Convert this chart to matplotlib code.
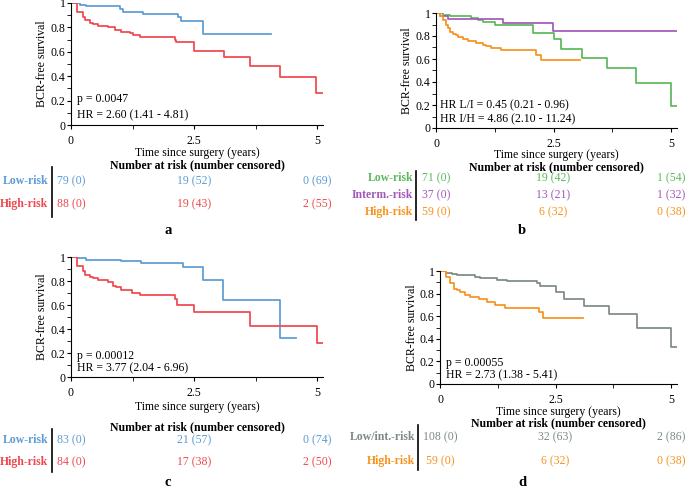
import matplotlib
matplotlib.use("Agg")
import matplotlib.pyplot as plt
from matplotlib.ticker import MultipleLocator, FormatStrFormatter
from matplotlib.transforms import blended_transform_factory

plt.rcParams["font.family"] = ["Liberation Serif", "DejaVu Serif"]
plt.rcParams["font.size"] = 8.5

# --- data --------------------------------------------------------------
# Kaplan-Meier step curves: event times, survival after each step, last follow-up
a_low_t = [0, 0.18, 0.31, 0.99, 1.06, 1.46, 2.17, 2.24, 2.68]
a_low_s = [1, 0.984, 0.973, 0.948, 0.929, 0.910, 0.883, 0.855, 0.743]
a_low_end = 4.07
a_high_t = [0, 0.13, 0.24, 0.28, 0.38, 0.45, 0.55, 0.75, 0.89, 1.02, 1.19,
            1.26, 1.40, 2.11, 2.14, 2.51, 3.10, 3.63, 4.25, 4.97]
a_high_s = [1, 0.93, 0.888, 0.86, 0.84, 0.83, 0.814, 0.80, 0.78, 0.765, 0.75,
            0.74, 0.724, 0.697, 0.678, 0.61, 0.555, 0.486, 0.39, 0.265]
a_high_end = 5.12

b_low_t = [0, 0.15, 0.3, 0.75, 0.9, 1.0, 1.25, 2.06, 2.5, 2.67, 3.1, 3.63, 4.26, 4.99]
b_low_s = [1, 0.985, 0.97, 0.955, 0.94, 0.925, 0.9, 0.825, 0.775, 0.685, 0.605,
           0.52, 0.39, 0.195]
b_low_end = 5.12
b_int_t = [0, 0.08, 0.25, 1.43, 2.49]
b_int_s = [1, 0.973, 0.946, 0.91, 0.845]
b_int_end = 5.12
b_high_t = [0, 0.08, 0.15, 0.22, 0.26, 0.29, 0.36, 0.43, 0.47, 0.57, 0.68, 0.86,
            1.0, 1.07, 1.18, 1.39, 2.13, 2.24]
b_high_s = [1, 0.97, 0.942, 0.9, 0.867, 0.838, 0.82, 0.81, 0.79, 0.77, 0.754,
            0.74, 0.725, 0.71, 0.696, 0.675, 0.638, 0.588]
b_high_end = 3.06

c_low_t = [0, 0.14, 0.31, 1.02, 1.43, 2.28, 2.68, 3.09, 4.25]
c_low_s = [1, 0.99, 0.975, 0.964, 0.947, 0.914, 0.81, 0.644, 0.325]
c_low_end = 4.58
c_high_t = [0, 0.13, 0.24, 0.28, 0.38, 0.45, 0.55, 0.75, 0.85, 0.92, 1.02, 1.23,
            1.40, 2.11, 2.16, 2.5, 3.63, 4.99]
c_high_s = [1, 0.928, 0.886, 0.853, 0.836, 0.825, 0.808, 0.789, 0.761, 0.747,
            0.725, 0.7, 0.686, 0.65, 0.603, 0.539, 0.428, 0.283]
c_high_end = 5.12

d_low_t = [0, 0.12, 0.26, 0.37, 0.76, 0.87, 1.23, 1.45, 2.1, 2.17, 2.5, 2.68,
           3.11, 3.65, 4.26, 4.99]
d_low_s = [1, 0.985, 0.97, 0.962, 0.947, 0.935, 0.92, 0.91, 0.89, 0.867, 0.81,
           0.75, 0.69, 0.617, 0.493, 0.33]
d_low_end = 5.12
d_high_t = [0, 0.12, 0.22, 0.3, 0.37, 0.44, 0.55, 0.66, 0.84, 1.02, 1.2, 1.41,
            2.14, 2.24]
d_high_s = [1, 0.95, 0.897, 0.844, 0.83, 0.814, 0.785, 0.77, 0.755, 0.726,
            0.696, 0.676, 0.64, 0.587]
d_high_end = 3.09

# number at risk (number censored) at 0, 2.5, 5 years
risk_times = [0, 2.5, 5]
a_risk = [["79 (0)", "19 (52)", "0 (69)"], ["88 (0)", "19 (43)", "2 (55)"]]
b_risk = [["71 (0)", "19 (42)", "1 (54)"], ["37 (0)", "13 (21)", "1 (32)"],
          ["59 (0)", "6 (32)", "0 (38)"]]
c_risk = [["83 (0)", "21 (57)", "0 (74)"], ["84 (0)", "17 (38)", "2 (50)"]]
d_risk = [["108 (0)", "32 (63)", "2 (86)"], ["59 (0)", "6 (32)", "0 (38)"]]

a_notes = ["p = 0.0047", "HR = 2.60 (1.41 - 4.81)"]
b_notes = ["HR L/I = 0.45 (0.21 - 0.96)", "HR I/H = 4.86 (2.10 - 11.24)"]
c_notes = ["p = 0.00012", "HR = 3.77 (2.04 - 6.96)"]
d_notes = ["p = 0.00055", "HR = 2.73 (1.38 - 5.41)"]

BLUE = "#5b9bd5"
RED = "#ef474d"
GREEN = "#5cb85c"
PURPLE = "#a358b8"
ORANGE = "#f7931e"
GRAY = "#7d8a83"

W, H = 685, 487
XMAX = 5.12


def fy(y):
    return 1 - y / H


def make_panel(fig, left, x5, top, bottom, curves, notes, note_x, note_y, rows,
               ylab_x, xlab_y, title_y, row_ys, bar, lab_right, letter):
    unit = (x5 - left) / 5
    ax = fig.add_axes([left / W, fy(bottom), XMAX * unit / W, (bottom - top) / H])
    for t, s, end, color in curves:
        ax.step(list(t) + [end], list(s) + [s[-1]], where="post",
                color=color, lw=1.25)
    ax.set_xlim(0, XMAX)
    ax.set_ylim(0, 1)
    ax.spines[["top", "right"]].set_visible(False)
    ax.xaxis.set_major_locator(MultipleLocator(2.5))
    ax.xaxis.set_minor_locator(MultipleLocator(1.25))
    ax.yaxis.set_major_locator(MultipleLocator(0.2))
    ax.yaxis.set_minor_locator(MultipleLocator(0.1))
    ax.xaxis.set_major_formatter(FormatStrFormatter("%g"))
    ax.yaxis.set_major_formatter(FormatStrFormatter("%g"))
    ax.tick_params(axis="y", which="both", length=3, pad=1)
    ax.tick_params(axis="x", which="both", length=3, pad=4)
    for i, txt in enumerate(notes):
        ax.text(note_x, note_y[i], txt, ha="left", va="center")

    ax.text((ylab_x - left) / (XMAX * unit), 0.5, "BCR-free survival",
            rotation=90, ha="center", va="center", transform=ax.transAxes)

    tr = blended_transform_factory(ax.transData, fig.transFigure)
    ax.text(XMAX / 2, fy(xlab_y), "Time since surgery (years)", ha="center",
            va="center", transform=tr)
    ax.text(XMAX / 2, fy(title_y), "Number at risk (number censored)",
            ha="center", va="center", fontweight="bold", transform=tr)
    for (label, color, vals), y in zip(rows, row_ys):
        fig.text(lab_right / W, fy(y), label, ha="right", va="center",
                 color=color, fontweight="bold")
        for t, v in zip(risk_times, vals):
            ax.text(t, fy(y), v, ha="center", va="center", color=color,
                    transform=tr)
    fig.add_artist(plt.Line2D([bar[0] / W] * 2, [fy(bar[1]), fy(bar[2])],
                              color="black", lw=1.2))
    fig.text(letter[1] / W, fy(letter[2]), letter[0], ha="center",
             va="center", fontweight="bold", fontsize=10.5)
    return ax


fig = plt.figure(figsize=(W / 100, H / 100), dpi=100)

make_panel(fig, 71, 317, 3, 125,
           [(a_low_t, a_low_s, a_low_end, BLUE), (a_high_t, a_high_s, a_high_end, RED)],
           a_notes, 0.13, [0.21, 0.08],
           [("Low-risk", BLUE, a_risk[0]), ("High-risk", RED, a_risk[1])],
           42, 153, 165, [181, 204], (52, 167, 217), 48, ("a", 168, 230))

make_panel(fig, 436, 671, 13, 128,
           [(b_low_t, b_low_s, b_low_end, GREEN), (b_int_t, b_int_s, b_int_end, PURPLE),
            (b_high_t, b_high_s, b_high_end, ORANGE)],
           b_notes, 0.09, [0.2, 0.08],
           [("Low-risk", GREEN, b_risk[0]), ("Interm.-risk", PURPLE, b_risk[1]),
            ("High-risk", ORANGE, b_risk[2])],
           407, 155, 167, [178, 195, 212], (416, 171, 220), 413, ("b", 522, 230))

make_panel(fig, 71, 317, 257, 377,
           [(c_low_t, c_low_s, c_low_end, BLUE), (c_high_t, c_high_s, c_high_end, RED)],
           c_notes, 0.12, [0.175, 0.075],
           [("Low-risk", BLUE, c_risk[0]), ("High-risk", RED, c_risk[1])],
           42, 407, 427, [440, 462], (52, 429, 472), 48, ("c", 168, 482))

make_panel(fig, 440, 671, 271, 384,
           [(d_low_t, d_low_s, d_low_end, GRAY), (d_high_t, d_high_s, d_high_end, ORANGE)],
           d_notes, 0.13, [0.186, 0.08],
           [("Low/int.-risk", GRAY, d_risk[0]), ("High-risk", ORANGE, d_risk[1])],
           412, 412, 423, [437, 461], (418, 425, 470), 415, ("d", 522, 482))

fig.savefig("out.png", dpi=100)
